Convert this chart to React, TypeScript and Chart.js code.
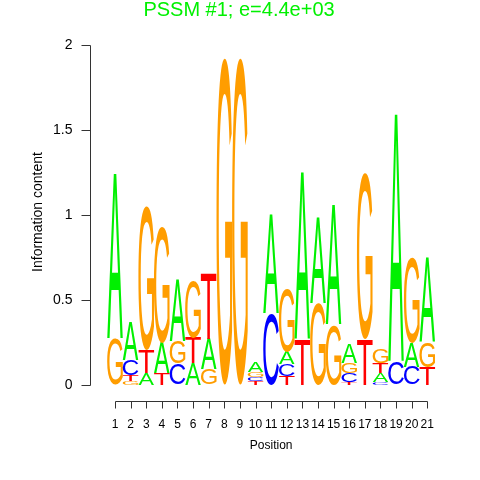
import { useEffect, useRef } from "react";
import { Chart, registerables } from "chart.js";

Chart.register(...registerables);

const positions = ["1","2","3","4","5","6","7","8","9","10","11","12","13","14","15","16","17","18","19","20","21"];
const heightA = [0.97, 0.225, 0.07, 0.18, 0.365, 0.125, 0.18, 0, 0, 0.06, 0.585, 0.075, 0.985, 0.51, 0.71, 0.11, 0, 0.055, 1.465, 0.14, 0.5];
const heightC = [0, 0.09, 0, 0, 0.125, 0, 0, 0, 0, 0.025, 0.42, 0.07, 0, 0, 0, 0.055, 0, 0.015, 0.13, 0.105, 0];
const heightG = [0.27, 0.02, 0.85, 0.68, 0.13, 0.335, 0.09, 1.925, 1.925, 0.03, 0, 0.37, 0, 0.48, 0.35, 0.06, 0.98, 0.085, 0, 0.505, 0.145];
const heightT = [0, 0.035, 0.135, 0.07, 0, 0.15, 0.385, 0, 0, 0.02, 0, 0.05, 0.263, 0, 0, 0.015, 0.265, 0.058, 0, 0, 0.105];
const yTicks = [0, 0.5, 1, 1.5, 2];
const yTickLabels = ["0", "0.5", "1", "1.5", "2"];
const titleText = "PSSM #1; e=4.4e+03";
const xTitle = "Position";
const yTitle = "Information content";

const letters = ["A", "C", "G", "T"];
const letterColors: Record<string, string> = { A: "#00F000", C: "#0000FF", G: "#FF9D00", T: "#FF0000" };
const series: Record<string, number[]> = { A: heightA, C: heightC, G: heightG, T: heightT };

const layerLetters: string[][] = [[], [], [], []];
const layerValues: number[][] = [[], [], [], []];
positions.forEach((_, i) => {
  const arr = letters.map((l) => ({ l, v: series[l][i] })).sort((a, b) => a.v - b.v);
  arr.forEach((e, k) => {
    layerLetters[k].push(e.l);
    layerValues[k].push(e.v);
  });
});

const FONT = '"Liberation Sans", Arial, Helvetica, sans-serif';

function drawGlyph(ctx: CanvasRenderingContext2D, ch: string, left: number, top: number, w: number, h: number, color: string) {
  ctx.save();
  ctx.font = `200px ${FONT}`;
  ctx.textBaseline = "alphabetic";
  ctx.textAlign = "left";
  const m = ctx.measureText(ch);
  const gl = -m.actualBoundingBoxLeft;
  const gr = m.actualBoundingBoxRight;
  const gt = -m.actualBoundingBoxAscent;
  const gb = m.actualBoundingBoxDescent;
  const gw = gr - gl;
  const gh = gb - gt;
  ctx.translate(left, top);
  ctx.scale(w / gw, h / gh);
  ctx.fillStyle = color;
  ctx.fillText(ch, -gl, -gt);
  ctx.restore();
}

const logoPlugin = {
  id: "logoPlugin",
  afterDatasetsDraw(chart: any) {
    const ctx = chart.ctx as CanvasRenderingContext2D;
    chart.data.datasets.forEach((ds: any, d: number) => {
      const meta = chart.getDatasetMeta(d);
      meta.data.forEach((el: any, i: number) => {
        const p = el.getProps(["x", "y", "base", "width"], true);
        const top = Math.min(p.y, p.base);
        const h = Math.abs(p.base - p.y);
        if (h < 0.3) return;
        const ch = ds.letters[i];
        drawGlyph(ctx, ch, p.x - p.width / 2, top, p.width, h, letterColors[ch]);
      });
    });
  },
  afterDraw(chart: any) {
    const ctx = chart.ctx as CanvasRenderingContext2D;
    const xs = chart.scales.x;
    const ys = chart.scales.y;
    ctx.save();
    ctx.strokeStyle = "#333333";
    ctx.lineWidth = 1;
    ctx.fillStyle = "#000000";
    // y axis
    const axX = 90.5;
    ctx.beginPath();
    ctx.moveTo(axX, Math.round(ys.getPixelForValue(0)) + 0.5);
    ctx.lineTo(axX, Math.round(ys.getPixelForValue(2)) + 0.5);
    yTicks.forEach((v) => {
      const py = Math.round(ys.getPixelForValue(v)) + 0.5;
      ctx.moveTo(axX, py);
      ctx.lineTo(axX - 9, py);
    });
    ctx.stroke();
    ctx.font = `14px ${FONT}`;
    ctx.textAlign = "right";
    ctx.textBaseline = "middle";
    yTicks.forEach((v, k) => {
      ctx.fillText(yTickLabels[k], 72.5, ys.getPixelForValue(v));
    });
    // x axis
    const axY = 401.5;
    ctx.beginPath();
    ctx.moveTo(Math.round(xs.getPixelForValue(0)) + 0.5, axY);
    ctx.lineTo(Math.round(xs.getPixelForValue(positions.length - 1)) + 0.5, axY);
    positions.forEach((_, i) => {
      const px = Math.round(xs.getPixelForValue(i)) + 0.5;
      ctx.moveTo(px, axY);
      ctx.lineTo(px, axY + 7);
    });
    ctx.stroke();
    ctx.font = `12px ${FONT}`;
    ctx.textAlign = "center";
    ctx.textBaseline = "alphabetic";
    positions.forEach((lab, i) => {
      ctx.fillText(lab, xs.getPixelForValue(i), 428);
    });
    ctx.fillText(xTitle, (xs.getPixelForValue(0) + xs.getPixelForValue(positions.length - 1)) / 2, 449);
    // y title
    ctx.save();
    ctx.font = `14px ${FONT}`;
    ctx.translate(42, 212);
    ctx.rotate(-Math.PI / 2);
    ctx.textAlign = "center";
    ctx.textBaseline = "alphabetic";
    ctx.fillText(yTitle, 0, 0);
    ctx.restore();
    // main title
    ctx.font = `20px ${FONT}`;
    ctx.fillStyle = "#00F000";
    ctx.textAlign = "center";
    ctx.fillText(titleText, 239, 16);
    ctx.restore();
  },
};

export default function App() {
  const ref = useRef<HTMLCanvasElement | null>(null);
  useEffect(() => {
    if (!ref.current) return;
    const chart = new Chart(ref.current, {
      type: "bar",
      data: {
        labels: positions,
        datasets: layerValues.map((vals, k) => ({
          label: "layer" + k,
          data: vals,
          letters: layerLetters[k],
          backgroundColor: "rgba(0,0,0,0)",
          borderWidth: 0,
          barPercentage: 1,
          categoryPercentage: 1,
        })) as any,
      },
      options: {
        animation: false,
        responsive: false,
        events: [],
        layout: { padding: { left: 107.2, right: 44.9, top: 45.3, bottom: 95.3 } },
        plugins: { legend: { display: false }, tooltip: { enabled: false }, title: { display: false } },
        scales: {
          x: { stacked: true, display: false, offset: true },
          y: { stacked: true, display: false, min: 0, max: 2 },
        },
      },
      plugins: [logoPlugin],
    });
    return () => chart.destroy();
  }, []);
  return (
    <div style={{ position: "fixed", left: 0, top: 0, width: 480, height: 480, background: "#fff" }}>
      <canvas ref={ref} width={480} height={480} style={{ width: 480, height: 480 }} />
    </div>
  );
}
